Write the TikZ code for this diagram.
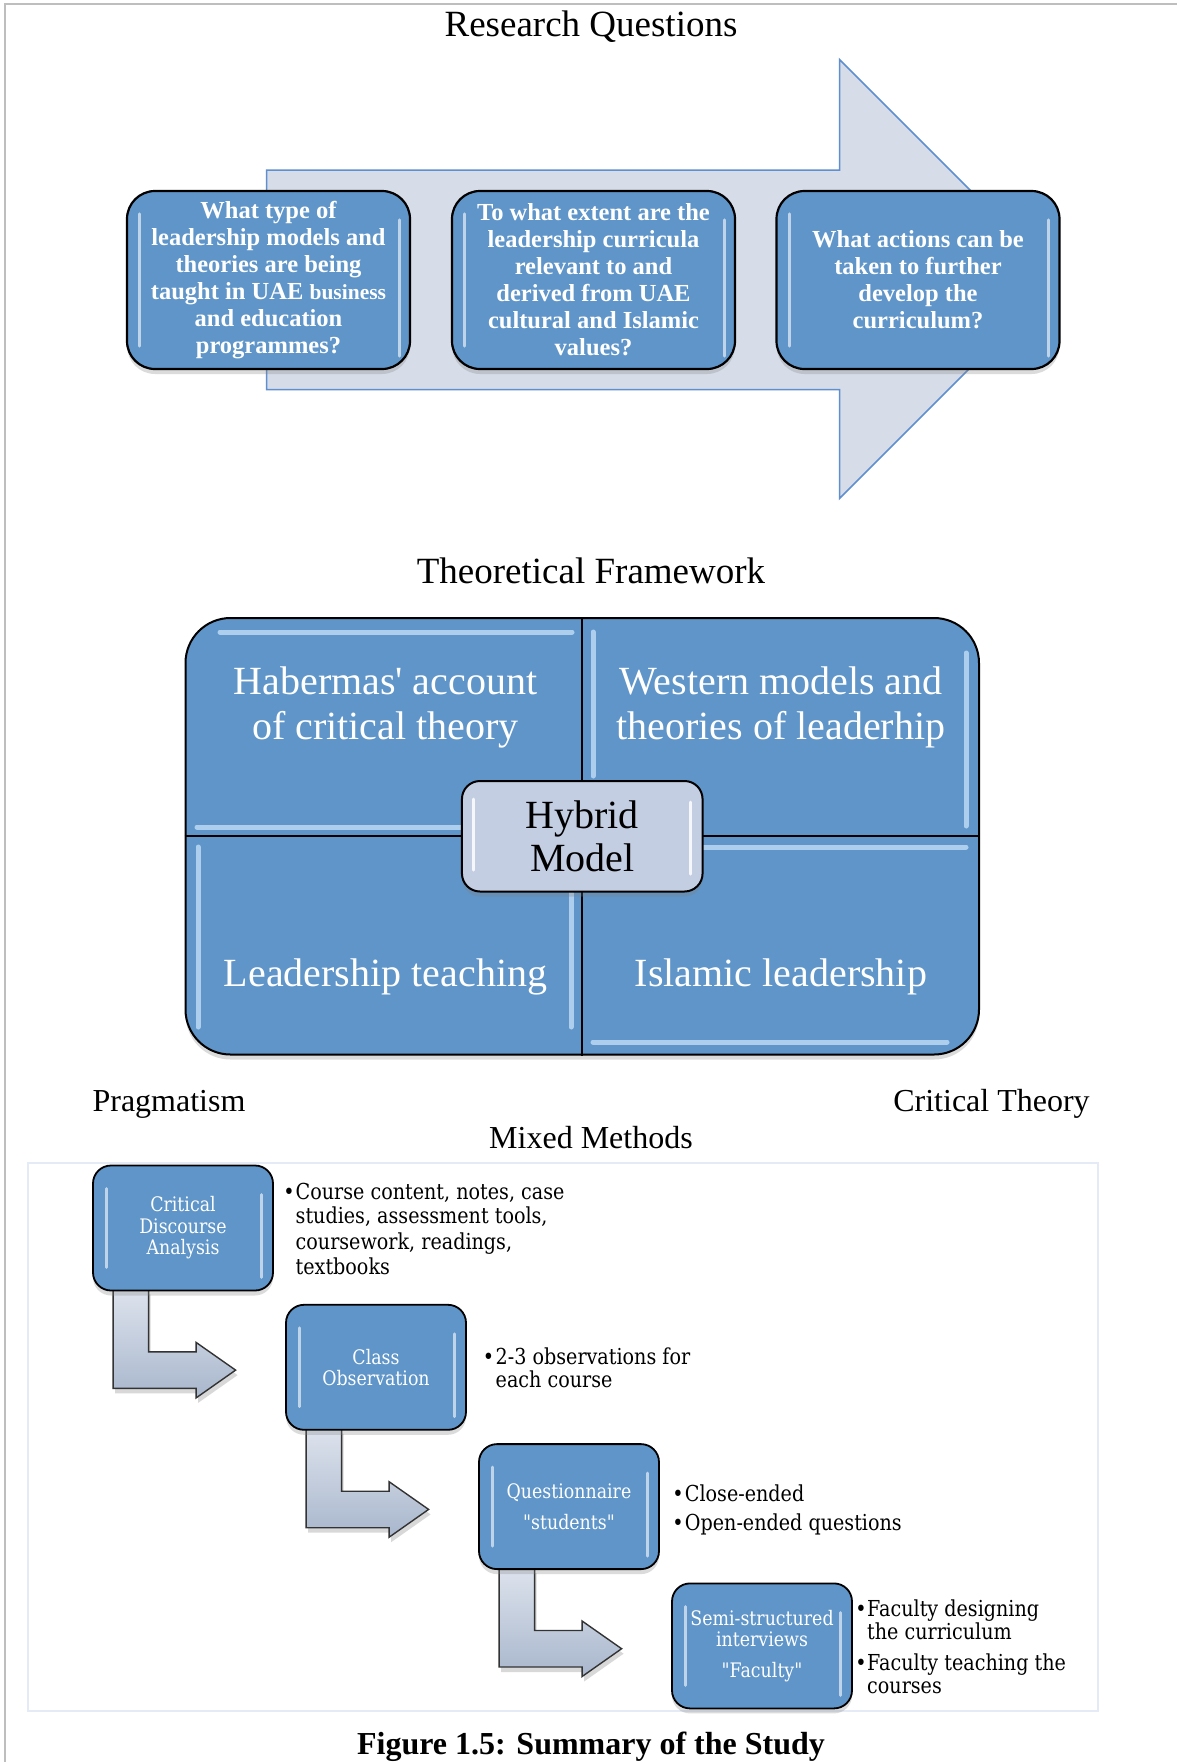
\documentclass[tikz,border=0pt]{standalone}
\usepackage{fontspec}
\setmainfont{Liberation Serif}
\newfontfamily\rmtext{Liberation Serif}
\newfontfamily\cmb{DejaVu Serif}[FakeStretch=0.87]
\usetikzlibrary{shadows,calc}

\definecolor{qblue}{RGB}{95,149,200}
\definecolor{arrowfill}{RGB}{214,221,233}
\definecolor{arrowedge}{RGB}{95,143,206}
\definecolor{hybridfill}{RGB}{195,206,226}
\definecolor{framegray}{RGB}{190,190,190}
\definecolor{paneledge}{RGB}{229,235,246}
\definecolor{glintblue}{RGB}{200,226,250}
\definecolor{bendlight}{RGB}{221,227,237}
\definecolor{benddark}{RGB}{168,182,204}

\pgfdeclarelayer{bg}
\pgfsetlayers{bg,main}

\tikzset{
  heading/.style={inner sep=0pt, font=\rmtext\fontsize{37}{40}\selectfont},
  sublabel/.style={inner sep=0pt, font=\rmtext\fontsize{32}{36}\selectfont},
  caption/.style={inner sep=0pt, font=\rmtext\bfseries\fontsize{32}{36}\selectfont},
  softshadow/.style={drop shadow={shadow xshift=0pt, shadow yshift=-5pt, opacity=0.28}},
  bigarrow/.style={draw=arrowedge, line width=1.5pt, fill=arrowfill, line join=miter},
  qbox/.style={draw=black, line width=2.2pt, fill=qblue, rounded corners=28pt,
    minimum width=283pt, minimum height=178pt, inner sep=0pt, text=white,
    align=center, font=\rmtext\bfseries\fontsize{24.5}{27}\selectfont, softshadow},
  glint/.style={white, opacity=0.6, line width=3pt, line cap=round},
  gridglint/.style={glintblue, opacity=0.75, line width=5pt, line cap=round},
  gridbox/.style={draw=black, line width=2pt, fill=qblue, rounded corners=45pt,
    minimum width=793.5pt, minimum height=436.5pt, inner sep=0pt, softshadow},
  divider/.style={black, line width=1.6pt},
  quadtext/.style={inner sep=0pt, text=white, align=center,
    font=\rmtext\fontsize{40}{45}\selectfont},
  hybrid/.style={draw=black, line width=2pt, fill=hybridfill, rounded corners=18pt,
    minimum width=240.6pt, minimum height=110.5pt, inner sep=0pt, align=center,
    font=\rmtext\fontsize{40}{43}\selectfont, softshadow},
  panel/.style={draw=paneledge, line width=2pt, minimum width=1070pt,
    minimum height=548pt, inner sep=0pt},
  pbox/.style={draw=black, line width=1.8pt, fill=qblue, rounded corners=18pt,
    minimum width=180pt, minimum height=125pt, inner sep=0pt, text=white,
    align=center, font=\cmb\fontsize{20}{21.5}\selectfont, softshadow},
  bendarrow/.style={draw=black!80, line width=1.4pt, top color=bendlight,
    bottom color=benddark, line join=miter,
    drop shadow={shadow xshift=2pt, shadow yshift=-5pt, opacity=0.3}},
  btext/.style={inner sep=0pt, anchor=base west, font=\cmb\fontsize{22}{25}\selectfont},
  bdot/.style={inner sep=0pt, anchor=base, font=\cmb\fontsize{22}{25}\selectfont},
}

\newcommand\boxglints[1]{%
  \draw[glint] ($(#1.north west)+(14,24)$) -- ($(#1.south west)+(14,-24)$);
  \draw[glint] ($(#1.north east)+(-12,30)$) -- ($(#1.south east)+(-12,-14)$);
}

\begin{document}
\begin{tikzpicture}[x=1pt,y=-1pt]
\useasboundingbox (0,0) rectangle (1177,1762);
\begin{pgfonlayer}{bg}
  \fill[white] (0,0) rectangle (1177,1762);
\end{pgfonlayer}

% page frame
\draw[framegray, line width=2.5pt] (5,1762) -- (5,4) -- (1177,4);

% ---------- Research questions ----------
\node[heading] (rq) at (591,27) {Research Questions};
\draw[bigarrow] (266.5,170) -- (839.5,170) -- (839.5,59.5) -- (1059,279)
  -- (839.5,498.5) -- (839.5,389.5) -- (266.5,389.5) -- cycle;

\node[qbox] (q1) at (268.5,280) {What type of\\leadership models and\\theories are being\\taught in UAE {\fontsize{21.5}{27}\selectfont business}\\and education\\programmes?};
\node[qbox] (q2) at (593.5,280) {To what extent are the\\leadership curricula\\relevant to and\\derived from UAE\\cultural and Islamic\\values?};
\node[qbox] (q3) at (918,280) {What actions can be\\taken to further\\develop the\\curriculum?};
\foreach \b in {q1,q2,q3}{\boxglints{\b}}

% ---------- Theoretical framework ----------
\node[heading] (tfh) at (591,571) {Theoretical Framework};
\node[gridbox] (tf) at (582.25,836.25) {};
\draw[divider] (tf.north) -- (tf.south);
\draw[divider] (tf.west) -- (tf.east);

\draw[gridglint] (220,632) -- (572,632);
\draw[gridglint] (197,827) -- (565,827);
\draw[gridglint] (593,632) -- (593,776);
\draw[gridglint] (966,653) -- (966,826);
\draw[gridglint] (198,847) -- (198,1027);
\draw[gridglint] (571,893) -- (571,1027);
\draw[gridglint] (703,847) -- (966,847);
\draw[gridglint] (593,1042) -- (947,1042);

\node[quadtext] (hab) at (385.5,707) {Habermas' account\\of critical theory};
\node[quadtext] (wes) at (781,707) {Western models and\\theories of leaderhip};
\node[quadtext] (lt) at (385.5,977) {Leadership teaching};
\node[quadtext] (il) at (781,977) {Islamic leadership};

\node[hybrid] (hy) at (tf.center) {Hybrid\\Model};
\draw[glint, opacity=0.85] (473,799) -- (473,870);
\draw[glint, opacity=0.85] (690,802) -- (690,874);

% ---------- Methodology ----------
\node[sublabel] (prag) at (169,1104) {Pragmatism};
\node[sublabel] (ct) at (991.5,1104) {Critical Theory};
\node[sublabel] (mm) at (591,1138) {Mixed Methods};

\node[panel] (mp) at (563,1437) {};

\node[pbox] (pa) at (183,1228) {Critical\\Discourse\\Analysis};
\node[pbox] (pb) at (376,1367.3) {Class\\Observation};
\node[pbox] (pc) at (569,1506.6) {Questionnaire\\[9pt]"students"};
\node[pbox] (pd) at (762,1645.9) {Semi-structured\\interviews\\[9pt]"Faculty"};
\foreach \b in {pa,pb,pc,pd}{\boxglints{\b}}

% bent arrows leading from each step to the next
\begin{pgfonlayer}{bg}
\foreach \a in {pa,pb,pc}{
  \begin{scope}[shift={(\a.south west)}]
    \draw[bendarrow] (21,-2) -- (21,97) -- (104,97) -- (104,106.5) -- (143.5,78.7)
      -- (104,51) -- (104,60.5) -- (56.5,60.5) -- (56.5,-2) -- cycle;
  \end{scope}
}
\end{pgfonlayer}

% bullet lists
\node[bdot] (da) at (289,1199.6) {•};
\node[btext] (a1) at (295.5,1199.6) {Course content, notes, case};
\node[btext] (a2) at (295.5,1223) {studies, assessment tools,};
\node[btext] (a3) at (295.5,1249) {coursework, readings,};
\node[btext] (a4) at (295.5,1274.7) {textbooks};

\node[bdot] (db) at (488.5,1364) {•};
\node[btext] (b1) at (495.5,1364) {2-3 observations for};
\node[btext] (b2) at (495.5,1387.3) {each course};

\node[bdot] (dc1) at (678,1501.3) {•};
\node[btext] (c1) at (684.7,1501.3) {Close-ended};
\node[bdot] (dc2) at (678,1530.7) {•};
\node[btext] (c2) at (684.7,1530.7) {Open-ended questions};

\node[bdot] (dd1) at (861,1616.3) {•};
\node[btext] (d1) at (867,1616.3) {Faculty designing};
\node[btext] (d2) at (867,1639.7) {the curriculum};
\node[bdot] (dd2) at (861,1670.7) {•};
\node[btext] (d3) at (867,1670.7) {Faculty teaching the};
\node[btext] (d4) at (867,1693.7) {courses};

\node[caption] (cap) at (591,1747) {Figure 1.5: Summary of the Study};
\end{tikzpicture}
\end{document}
